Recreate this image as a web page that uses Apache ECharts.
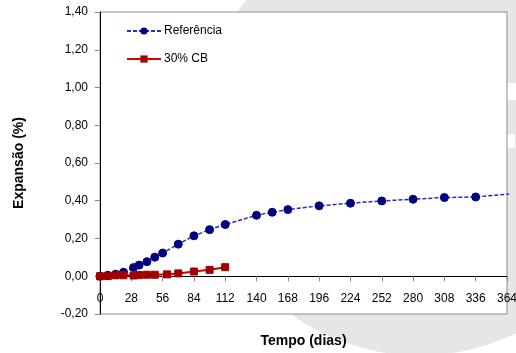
<!DOCTYPE html>
<html>
<head>
<meta charset="utf-8">
<script src="https://cdn.jsdelivr.net/npm/echarts@6/dist/echarts.min.js"></script>
<style>html,body{margin:0;padding:0;background:#fff;}#c{width:516px;height:353px;}</style>
</head>
<body>
<div id="c"></div>
<script>
var refDays = [0, 7, 14, 21, 30, 35, 42, 49, 56, 70, 84, 98, 112, 140, 154, 168, 196, 224, 252, 280, 308, 336, 392];
var refValues = [0, 0.005, 0.011, 0.021, 0.046, 0.059, 0.077, 0.101, 0.123, 0.170, 0.214, 0.247, 0.274, 0.323, 0.339, 0.353, 0.373, 0.387, 0.399, 0.408, 0.417, 0.420, 0.450];
var cbDays = [0, 7, 14, 21, 30, 35, 42, 49, 60, 70, 84, 98, 112];
var cbValues = [0, 0.001, 0.005, 0.005, 0.004, 0.006, 0.008, 0.008, 0.010, 0.015, 0.025, 0.034, 0.048];
var xTicks = [0, 28, 56, 84, 112, 140, 168, 196, 224, 252, 280, 308, 336, 364];
var yTicks = [-0.2, 0, 0.2, 0.4, 0.6, 0.8, 1.0, 1.2, 1.4];
var seriesNames = ['Referência', '30% CB'];

function pairs(xs, ys) { return xs.map(function (x, i) { return [x, ys[i]]; }); }
var FONT = 'Liberation Sans, Arial, sans-serif';

var chart = echarts.init(document.getElementById('c'), null, {renderer: 'canvas'});
chart.setOption({
  animation: false,
  backgroundColor: '#ffffff',
  graphic: [
    {type: 'circle', z: -10, shape: {cx: 419.5, cy: 135.5, r: 220}, style: {fill: '#e6e6e6'}},
    {type: 'rect', z: -9, shape: {x: 507, y: 83, width: 9, height: 17}, style: {fill: '#ffffff'}},
    {type: 'rect', z: -9, shape: {x: 507, y: 134, width: 8, height: 14}, style: {fill: '#ffffff'}}
  ],
  grid: {
    left: 100, right: 9, top: 12, bottom: 39,
    containLabel: false, outerBoundsMode: 'none',
    show: true, backgroundColor: '#ffffff', borderColor: '#8c8c8c', borderWidth: 1
  },
  legend: {
    left: 121, top: 20, orient: 'vertical',
    itemWidth: 34, itemHeight: 9, itemGap: 16,
    textStyle: {fontFamily: FONT, fontSize: 12, color: '#000', padding: [0, 0, 0, -2]},
    data: seriesNames
  },
  xAxis: {
    type: 'value', min: xTicks[0], max: xTicks[xTicks.length - 1], interval: 28,
    name: 'Tempo (dias)', nameLocation: 'middle', nameGap: 20,
    nameTextStyle: {fontFamily: FONT, fontSize: 14, fontWeight: 'bold', color: '#000'},
    axisLine: {onZero: true, lineStyle: {color: '#000', width: 1}},
    axisTick: {show: true, length: 5, lineStyle: {color: '#888'}},
    axisLabel: {fontFamily: FONT, fontSize: 12, color: '#000', margin: -21},
    splitLine: {show: false}
  },
  yAxis: {
    type: 'value', min: yTicks[0], max: yTicks[yTicks.length - 1], interval: 0.2,
    name: 'Expansão (%)', nameLocation: 'middle', nameGap: 74,
    nameTextStyle: {fontFamily: FONT, fontSize: 14, fontWeight: 'bold', color: '#000'},
    axisLine: {show: true, onZero: false, lineStyle: {color: '#000', width: 1}},
    axisTick: {show: true, length: 5, lineStyle: {color: '#888'}},
    axisLabel: {fontFamily: FONT, fontSize: 12, color: '#000', margin: 12,
      formatter: function (v) { return v.toFixed(2).replace('.', ','); }},
    splitLine: {show: false}
  },
  series: [
    {
      name: seriesNames[0], type: 'line', data: pairs(refDays, refValues), clip: true,
      symbol: 'circle', symbolSize: 8,
      lineStyle: {color: '#2b2bb0', width: 1.5, type: [4, 2]},
      itemStyle: {color: '#000080', borderColor: '#000080'}
    },
    {
      name: seriesNames[1], type: 'line', data: pairs(cbDays, cbValues), clip: true,
      symbol: 'rect', symbolSize: 7,
      lineStyle: {color: '#cc0000', width: 2},
      itemStyle: {color: '#a00000', borderColor: '#a00000'}
    }
  ]
});
</script>
</body>
</html>
